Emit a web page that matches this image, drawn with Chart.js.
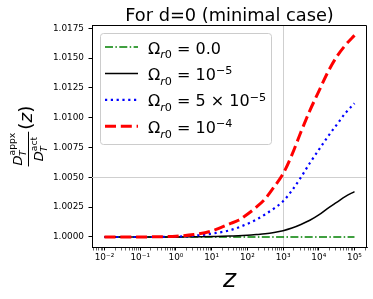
<!DOCTYPE html>
<html>
<head>
<meta charset="utf-8">
<script src="https://cdn.jsdelivr.net/npm/chart.js@4.4.1/dist/chart.umd.min.js"></script>
<style>
  html, body { margin: 0; padding: 0; background: #fff; }
  canvas { display: block; }
</style>
</head>
<body>
<canvas id="ratioChart" width="373" height="299"></canvas>
<script>
const FONT = "DejaVu Sans";

// redshift grid and the ratio D_T^appx / D_T^act
const redshifts = [0.01, 0.0316, 0.1, 0.316, 1, 3.16, 10, 31.6, 56.2, 100, 178, 316, 562, 1000,
  1778, 3162, 5623, 10000, 17783, 31623, 56234, 100000];
const ratioOmega0 = [1.0, 1.0, 1.0, 1.0, 1.0, 1.0, 1.0, 1.0, 1.0, 1.0, 1.0, 1.0, 1.0, 1.0,
  1.0, 1.0, 1.0, 1.0, 1.0, 1.0, 1.0, 1.0];
const ratioOmega1e5 = [1.0, 1.0, 1.0, 1.0, 1.0, 1.00001, 1.00003, 1.00008, 1.0001, 1.00014, 1.0002, 1.00027, 1.00038, 1.00053,
  1.00075, 1.00105, 1.0014, 1.00185, 1.0024, 1.0029, 1.0034, 1.0038];
const ratioOmega5e5 = [1.0, 1.0, 1.0, 1.0, 1.00003, 1.0001, 1.00028, 1.00055, 1.0008, 1.0011, 1.00145, 1.0019, 1.0024, 1.003,
  1.0039, 1.005, 1.0062, 1.0073, 1.0084, 1.0094, 1.0104, 1.0112];
const ratioOmega1e4 = [1.0, 1.0, 1.0, 1.00002, 1.00006, 1.0002, 1.0005, 1.0011, 1.0014, 1.0019, 1.0025, 1.0032, 1.0042, 1.0053,
  1.0069, 1.0088, 1.0106, 1.0122, 1.0138, 1.0151, 1.0161, 1.0169];

const seriesLabels = ["Ωr0 = 0.0", "Ωr0 = 10⁻⁵", "Ωr0 = 5 × 10⁻⁵", "Ωr0 = 10⁻⁴"];

const xTickValues = [0.01, 0.1, 1, 10, 100, 1000, 10000, 100000];
const xTickLabels = ["10⁻²", "10⁻¹", "10⁰", "10¹", "10²", "10³", "10⁴", "10⁵"];
const yTickValues = [1.0, 1.0025, 1.005, 1.0075, 1.01, 1.0125, 1.015, 1.0175];

const markerZ = 1000;
const markerRatio = 1.005;

// runs: [text, scale, shift in em (up positive), italic]
const SUB = -0.31, SUP = 0.34;
const omegaR0 = [["Ω", 1, 0, false], ["r", 0.7, SUB, true], ["0", 0.7, SUB, false]];
const legendMath = [
  [...omegaR0, [" = 0.0", 1, 0, false]],
  [...omegaR0, [" = 10", 1, 0, false], ["−5", 0.7, SUP, false]],
  [...omegaR0, [" = 5 × 10", 1, 0, false], ["−5", 0.7, SUP, false]],
  [...omegaR0, [" = 10", 1, 0, false], ["−4", 0.7, SUP, false]],
];

function setFont(ctx, size, italic) {
  ctx.font = `${italic ? "italic " : ""}${size}px "${FONT}"`;
}

function textWidth(ctx, text, size, italic) {
  setFont(ctx, size, italic);
  return ctx.measureText(text).width;
}

function drawRuns(ctx, runs, x, y, size) {
  let cx = x;
  for (const [text, scale, shift, italic] of runs) {
    setFont(ctx, size * scale, italic);
    ctx.fillText(text, cx, y - shift * size);
    cx += ctx.measureText(text).width;
  }
  return cx - x;
}

const decorPlugin = {
  id: "decor",
  beforeDatasetsDraw(chart) {
    const { ctx, chartArea: a, scales } = chart;
    ctx.save();
    ctx.strokeStyle = "#cfcfcf";
    ctx.lineWidth = 1;
    const vx = Math.round(scales.x.getPixelForValue(markerZ)) + 0.5;
    const hy = Math.round(scales.y.getPixelForValue(markerRatio)) + 0.5;
    ctx.beginPath();
    ctx.moveTo(vx, a.top);
    ctx.lineTo(vx, a.bottom);
    ctx.moveTo(a.left, hy);
    ctx.lineTo(a.right, hy);
    ctx.stroke();
    ctx.restore();
  },
  afterDraw(chart) {
    const { ctx, chartArea: a } = chart;
    ctx.save();

    // top and right spines
    ctx.strokeStyle = "#000";
    ctx.lineWidth = 1;
    ctx.beginPath();
    ctx.moveTo(Math.round(a.left), Math.round(a.top) + 0.5);
    ctx.lineTo(Math.round(a.right) - 0.5, Math.round(a.top) + 0.5);
    ctx.lineTo(Math.round(a.right) - 0.5, Math.round(a.bottom));
    ctx.stroke();

    ctx.fillStyle = "#000";
    ctx.textBaseline = "alphabetic";

    // title
    ctx.textAlign = "center";
    setFont(ctx, 17.8, false);
    ctx.fillText("For d=0 (minimal case)", (a.left + a.right) / 2, 20.7);

    // x label
    setFont(ctx, 25, true);
    ctx.fillText("z", (a.left + a.right) / 2, 286.5);
    ctx.textAlign = "left";

    // legend box
    const bx = 100.5, by = 33.5, bw = 171, bh = 111, r = 3;
    ctx.beginPath();
    ctx.moveTo(bx + r, by);
    ctx.arcTo(bx + bw, by, bx + bw, by + bh, r);
    ctx.arcTo(bx + bw, by + bh, bx, by + bh, r);
    ctx.arcTo(bx, by + bh, bx, by, r);
    ctx.arcTo(bx, by, bx + bw, by, r);
    ctx.closePath();
    ctx.fillStyle = "rgba(255,255,255,0.8)";
    ctx.fill();
    ctx.strokeStyle = "#cccccc";
    ctx.stroke();

    chart.data.datasets.forEach((ds, i) => {
      const ly = 47 + i * 26.4;
      ctx.save();
      ctx.strokeStyle = ds.borderColor;
      ctx.lineWidth = ds.borderWidth;
      ctx.setLineDash(ds.borderDash || []);
      ctx.beginPath();
      ctx.moveTo(105, ly);
      ctx.lineTo(138, ly);
      ctx.stroke();
      ctx.restore();
      ctx.fillStyle = "#000";
      drawRuns(ctx, legendMath[i], 148, ly + 6.5, 16);
    });

    // y label: D_T^appx / D_T^act (z), rotated
    const S = 18.5, F = 13, s = 9.2;
    const numW = textWidth(ctx, "D", F, true) + Math.max(textWidth(ctx, "T", s, true), textWidth(ctx, "appx", s, false));
    const denW = textWidth(ctx, "D", F, true) + Math.max(textWidth(ctx, "T", s, true), textWidth(ctx, "act", s, false));
    const barW = Math.max(numW, denW) + 2;
    const parenW = textWidth(ctx, "(", S, false) + textWidth(ctx, "z", S, true) + textWidth(ctx, ")", S, false);
    const gap = 2;
    const total = barW + gap + parenW;
    const midY = (a.top + a.bottom) / 2;
    const u0 = -midY - total / 2;

    ctx.rotate(-Math.PI / 2);
    // local (u, v) -> screen (v, -u)
    ctx.fillRect(u0, 28, barW, 1);

    let u = u0 + (barW - numW) / 2;
    setFont(ctx, F, true);
    ctx.fillText("D", u, 21.5);
    u += ctx.measureText("D").width;
    setFont(ctx, s, false);
    ctx.fillText("appx", u, 14.5);
    setFont(ctx, s, true);
    ctx.fillText("T", u - 0.5, 26);

    u = u0 + (barW - denW) / 2;
    setFont(ctx, F, true);
    ctx.fillText("D", u, 43);
    u += ctx.measureText("D").width;
    setFont(ctx, s, false);
    ctx.fillText("act", u, 36.5);
    setFont(ctx, s, true);
    ctx.fillText("T", u - 0.5, 47);

    u = u0 + barW + gap;
    drawRuns(ctx, [["(", 1, 0, false], ["z", 1, 0, true], [")", 1, 0, false]], u, 32, S);

    ctx.restore();
  },
};

function makeSeries(label, values, color, width, dash, order) {
  return {
    label,
    data: redshifts.map((z, i) => ({ x: z, y: values[i] })),
    borderColor: color,
    borderWidth: width,
    borderDash: dash,
    pointRadius: 0,
    fill: false,
    cubicInterpolationMode: "monotone",
    order,
  };
}

Chart.defaults.font.family = FONT;
Chart.defaults.color = "#000";

new Chart(document.getElementById("ratioChart"), {
  type: "line",
  data: {
    datasets: [
      makeSeries(seriesLabels[0], ratioOmega0, "#008000", 1.5, [8, 2.4, 1.5, 2.4], 4),
      makeSeries(seriesLabels[1], ratioOmega1e5, "#000000", 1.5, [], 3),
      makeSeries(seriesLabels[2], ratioOmega5e5, "#0000ff", 2.2, [2.2, 3.6], 2),
      makeSeries(seriesLabels[3], ratioOmega1e4, "#ff0000", 3, [11, 4.8], 1),
    ],
  },
  options: {
    responsive: false,
    animation: false,
    devicePixelRatio: 1,
    layout: { padding: { top: 25, right: 6, left: 0, bottom: 0 } },
    plugins: { legend: { display: false }, tooltip: { enabled: false }, title: { display: false } },
    scales: {
      x: {
        type: "logarithmic",
        min: 0.00447,
        max: 223870,
        afterBuildTicks: (axis) => {
          const ticks = [];
          for (let e = -3; e <= 5; e++) {
            for (let k = 1; k <= 9; k++) {
              const v = k * Math.pow(10, e);
              if (v >= axis.min && v <= axis.max) ticks.push({ value: v });
            }
          }
          axis.ticks = ticks;
        },
        afterFit: (scale) => { scale.height = 52; },
        ticks: {
          autoSkip: false,
          maxRotation: 0,
          padding: 2,
          font: { size: 8.9 },
          callback: (value) => {
            const i = xTickValues.findIndex((t) => Math.abs(t - value) / t < 1e-6);
            return i >= 0 ? xTickLabels[i] : "";
          },
        },
        grid: {
          drawOnChartArea: false,
          drawTicks: true,
          tickLength: 3.5,
          color: "#000",
          lineWidth: (ctx) => {
            const v = ctx.tick ? ctx.tick.value : 0;
            return xTickValues.some((t) => Math.abs(t - v) / t < 1e-6) ? 1 : 0.6;
          },
        },
        border: { display: true, color: "#000", width: 1 },
      },
      y: {
        min: 0.99916,
        max: 1.01777,
        afterBuildTicks: (axis) => {
          axis.ticks = yTickValues.map((v) => ({ value: v }));
        },
        afterFit: (scale) => { scale.width = 92; },
        ticks: {
          padding: 4.5,
          font: { size: 8.9 },
          callback: (value) => Number(value).toFixed(4),
        },
        grid: {
          drawOnChartArea: false,
          drawTicks: true,
          tickLength: 3.5,
          color: "#000",
          lineWidth: 1,
        },
        border: { display: true, color: "#000", width: 1 },
      },
    },
  },
  plugins: [decorPlugin],
});
</script>
</body>
</html>
